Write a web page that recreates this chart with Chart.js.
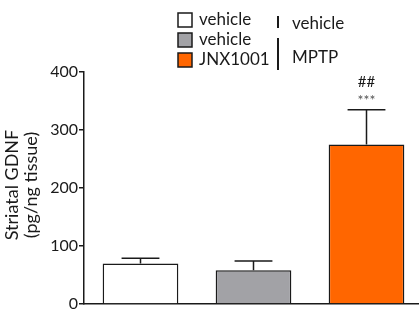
<!DOCTYPE html>
<html>
<head>
<meta charset="utf-8">
<script src="https://cdn.jsdelivr.net/npm/chart.js@4.4.1/dist/chart.umd.min.js"></script>
<style>
  html, body { margin: 0; padding: 0; background: #fff; overflow: hidden; }
  #wrap { width: 424px; height: 320px; }
</style>
</head>
<body>
<div id="wrap"><canvas id="c" width="424" height="320"></canvas></div>
<script>
// Striatal GDNF by treatment group (mean ± SEM)
const groups = ['vehicle', 'vehicle', 'JNX1001'];
const toxin = ['vehicle', 'MPTP'];
const gdnfMean = [70, 58, 275];
const gdnfSem = [9, 16, 60];
const barColors = ['#FFFFFF', '#A2A2A6', '#FF6600'];
const yTicks = [0, 100, 200, 300, 400];
const sigMarks = ['', '', '***'];
const sigVsMptp = ['', '', '##'];

const FONT = 'Lato, "Open Sans", sans-serif';
const INK = '#1a1a1a';

const errorBars = {
  id: 'errorBars',
  afterDatasetsDraw(chart) {
    const ctx = chart.ctx;
    const meta = chart.getDatasetMeta(0);
    const y = chart.scales.y;
    ctx.save();
    ctx.strokeStyle = INK;
    ctx.lineWidth = 1.5;
    meta.data.forEach((bar, i) => {
      const top = y.getPixelForValue(gdnfMean[i] + gdnfSem[i]);
      const base = y.getPixelForValue(gdnfMean[i]);
      const half = bar.width / 4;
      ctx.beginPath();
      ctx.moveTo(bar.x, base);
      ctx.lineTo(bar.x, top);
      ctx.moveTo(bar.x - half, top);
      ctx.lineTo(bar.x + half, top);
      ctx.stroke();
      ctx.textAlign = 'center';
      ctx.textBaseline = 'middle';
      if (sigMarks[i]) {
        ctx.fillStyle = '#555';
        ctx.font = '14px ' + FONT;
        ctx.fillText(sigMarks[i], bar.x, top - 9);
      }
      if (sigVsMptp[i]) {
        ctx.fillStyle = INK;
        ctx.font = '15px ' + FONT;
        ctx.fillText(sigVsMptp[i], bar.x, top - 28);
      }
    });
    ctx.restore();
  }
};

const sideTitle = {
  id: 'sideTitle',
  afterDraw(chart) {
    const ctx = chart.ctx;
    const a = chart.chartArea;
    const cy = (a.top + a.bottom) / 2;
    ctx.save();
    ctx.fillStyle = INK;
    ctx.font = '18px ' + FONT;
    ctx.textAlign = 'center';
    ctx.textBaseline = 'middle';
    ctx.translate(0, cy - 3);
    ctx.rotate(-Math.PI / 2);
    ctx.fillText('Striatal GDNF', 0, 12);
    ctx.fillText('(pg/ng tissue)', 0, 31);
    ctx.restore();
  }
};

const groupLegend = {
  id: 'groupLegend',
  afterDraw(chart) {
    const ctx = chart.ctx;
    ctx.save();
    ctx.font = '17px ' + FONT;
    ctx.textBaseline = 'middle';
    ctx.textAlign = 'left';
    groups.forEach((g, i) => {
      const top = 13 + i * 20;
      ctx.fillStyle = barColors[i];
      ctx.fillRect(178, top, 14, 14);
      ctx.strokeStyle = INK;
      ctx.lineWidth = 1.5;
      ctx.strokeRect(178, top, 14, 14);
      ctx.fillStyle = INK;
      ctx.fillText(g, 199, top + 7);
    });
    ctx.lineWidth = 2;
    ctx.beginPath();
    ctx.moveTo(278, 16); ctx.lineTo(278, 28);
    ctx.moveTo(278, 38); ctx.lineTo(278, 70);
    ctx.stroke();
    ctx.fillText(toxin[0], 292, 24);
    ctx.fillText(toxin[1], 292, 58);
    ctx.restore();
  }
};

new Chart(document.getElementById('c'), {
  type: 'bar',
  data: {
    labels: groups.map((g, i) => g + ' ' + (i === 0 ? toxin[0] : toxin[1])),
    datasets: [{
      data: gdnfMean,
      backgroundColor: barColors,
      borderColor: INK,
      borderWidth: 1.5,
      categoryPercentage: 0.67,
      barPercentage: 1.0
    }]
  },
  options: {
    responsive: false,
    animation: false,
    devicePixelRatio: 1,
    layout: { padding: { left: 0, right: 1, top: 72, bottom: 8 } },
    plugins: { legend: { display: false }, tooltip: { enabled: false } },
    scales: {
      x: {
        grid: { display: false },
        border: { display: true, color: INK, width: 1.5 },
        ticks: { display: false }
      },
      y: {
        min: 0,
        max: 400,
        afterFit(scale) { scale.width = 84; },
        afterBuildTicks(scale) { scale.ticks = yTicks.map(v => ({ value: v })); },
        grid: { display: true, drawOnChartArea: false, drawTicks: true, tickLength: 5, color: INK, lineWidth: 1.5 },
        border: { display: true, color: INK, width: 1.5 },
        ticks: { color: INK, font: { family: FONT, size: 16 }, padding: 1 }
      }
    }
  },
  plugins: [errorBars, sideTitle, groupLegend]
});
</script>
</body>
</html>
